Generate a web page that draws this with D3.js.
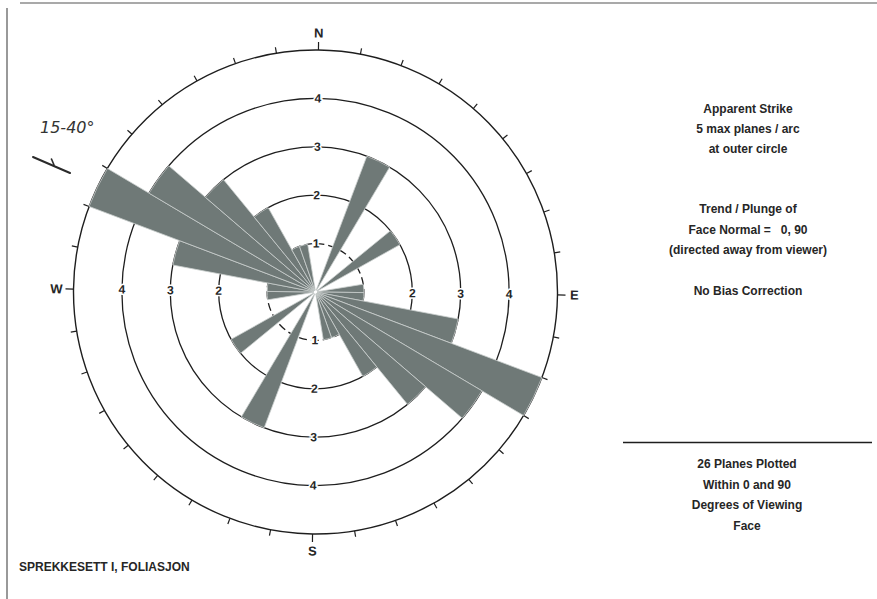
<!DOCTYPE html>
<html>
<head>
<meta charset="utf-8">
<script src="https://cdn.jsdelivr.net/npm/d3@7"></script>
<style>
  html, body { margin: 0; padding: 0; background: #fff; }
  svg { display: block; }
  text { font-family: "Liberation Sans", Arial, sans-serif; fill: #262626; }
</style>
</head>
<body>
<svg id="chart" width="877" height="599"></svg>
<script>
// Strike bins (degrees, start of each 10° arc) over one half-circle;
// each bin is drawn again at +180° since apparent strike is bidirectional.
const strikeBins = [0, 10, 20, 30, 40, 50, 60, 70, 80, 90, 100, 110, 120, 130, 140, 150, 160, 170];
const planeCounts = [0, 0, 3, 0, 0, 2, 0, 0, 1, 1, 3, 5, 4, 3, 2, 1, 1, 0];
const ringValues = [1, 2, 3, 4];
const maxPlanes = 5;
const compassLabels = ["N", "E", "S", "W"];
const infoLines = ["Apparent Strike", "5 max planes / arc", "at outer circle"];
const faceLines = ["Trend / Plunge of", "Face Normal =   0, 90", "(directed away from viewer)"];
const biasLine = "No Bias Correction";
const countLines = ["26 Planes Plotted", "Within 0 and 90", "Degrees of Viewing", "Face"];
const titleText = "SPREKKESETT I, FOLIASJON";
const noteText = "15-40°";

const svg = d3.select("#chart");
const cx = 315.5, cy = 292, R = 242;
const toRad = d => d * Math.PI / 180;

const r = d3.scaleLinear().domain([0, maxPlanes]).range([0, R]);

// page frame
svg.append("line").attr("x1", 20).attr("y1", 3).attr("x2", 877).attr("y2", 3)
  .attr("stroke", "#555").attr("stroke-width", 1.2);
svg.append("line").attr("x1", 7).attr("y1", 8).attr("x2", 7).attr("y2", 599)
  .attr("stroke", "#555").attr("stroke-width", 1.2);

const g = svg.append("g").attr("transform", `translate(${cx},${cy}) rotate(0.7)`);

// outer circle
g.append("circle").attr("r", r(maxPlanes)).attr("fill", "none")
  .attr("stroke", "#1e1e1e").attr("stroke-width", 1.4);

// rings
g.selectAll("circle.ring").data(ringValues).join("circle")
  .attr("class", "ring")
  .attr("r", d => r(d))
  .attr("fill", "none")
  .attr("stroke", "#1e1e1e")
  .attr("stroke-width", 1.3)
  .attr("stroke-dasharray", d => d === 1 ? "8,4" : null);

// 10° ticks on outer circle
const tickDegs = d3.range(0, 360, 10);
g.selectAll("line.tick").data(tickDegs).join("line")
  .attr("class", "tick")
  .attr("x1", d => Math.sin(toRad(d)) * R)
  .attr("y1", d => -Math.cos(toRad(d)) * R)
  .attr("x2", d => Math.sin(toRad(d)) * (R + (d % 90 === 0 ? 8 : 6)))
  .attr("y2", d => -Math.cos(toRad(d)) * (R + (d % 90 === 0 ? 8 : 6)))
  .attr("stroke", "#1e1e1e").attr("stroke-width", 1.2);

// compass labels
g.selectAll("text.compass").data(compassLabels).join("text")
  .attr("class", "compass")
  .attr("x", (d, i) => Math.sin(toRad(i * 90)) * (R + 17))
  .attr("y", (d, i) => -Math.cos(toRad(i * 90)) * (R + 17))
  .attr("text-anchor", "middle").attr("dominant-baseline", "central")
  .style("font-size", "13px").style("font-weight", "bold")
  .text(d => d);

// ring value labels on the four axes (the innermost E/W ones sit under the petals)
const ringLabelData = [];
ringValues.forEach(v => [0, 90, 180, 270].forEach(a => {
  if (!(v === 1 && (a === 90 || a === 270))) ringLabelData.push({ v, a });
}));
g.selectAll("text.ringlab").data(ringLabelData).join("text")
  .attr("class", "ringlab")
  .attr("x", d => Math.sin(toRad(d.a)) * r(d.v))
  .attr("y", d => -Math.cos(toRad(d.a)) * r(d.v))
  .attr("text-anchor", "middle").attr("dominant-baseline", "central")
  .style("font-size", "12px").style("font-weight", "bold")
  .style("paint-order", "stroke").style("stroke", "#fff").style("stroke-width", "3px")
  .text(d => d.v);

// rose petals (each bin and its opposite)
const petals = [];
strikeBins.forEach((b, i) => {
  if (planeCounts[i] > 0) {
    petals.push({ start: b, n: planeCounts[i] });
    petals.push({ start: b + 180, n: planeCounts[i] });
  }
});
const arc = d3.arc()
  .innerRadius(2)
  .outerRadius(d => r(d.n))
  .startAngle(d => toRad(d.start))
  .endAngle(d => toRad(d.start + 10));
g.selectAll("path.petal").data(petals).join("path")
  .attr("class", "petal")
  .attr("d", arc)
  .attr("fill", "#6f7977")
  .attr("stroke", "#c9cfcd")
  .attr("stroke-width", 0.8);

// side notes
const tx = 748;
svg.append("g").selectAll("text").data(infoLines).join("text")
  .attr("x", tx).attr("y", (d, i) => 109 + i * 20)
  .attr("text-anchor", "middle").attr("dominant-baseline", "central")
  .style("font-size", "12px").style("font-weight", "bold").text(d => d);
svg.append("g").selectAll("text").data(faceLines).join("text")
  .attr("x", tx).attr("y", (d, i) => 209 + i * 20.5)
  .attr("text-anchor", "middle").attr("dominant-baseline", "central")
  .style("font-size", "12px").style("font-weight", "bold").style("white-space", "pre")
  .text(d => d);
svg.append("text").attr("x", tx).attr("y", 291)
  .attr("text-anchor", "middle").attr("dominant-baseline", "central")
  .style("font-size", "12px").style("font-weight", "bold").text(biasLine);

svg.append("line").attr("x1", 623).attr("y1", 442.5).attr("x2", 872).attr("y2", 442.5)
  .attr("stroke", "#1e1e1e").attr("stroke-width", 1.6);
svg.append("g").selectAll("text").data(countLines).join("text")
  .attr("x", 747).attr("y", (d, i) => 464 + i * 20.7)
  .attr("text-anchor", "middle").attr("dominant-baseline", "central")
  .style("font-size", "12px").style("font-weight", "bold").text(d => d);

svg.append("text").attr("x", 19).attr("y", 567)
  .attr("dominant-baseline", "central")
  .style("font-size", "12px").style("font-weight", "bold").text(titleText);

// hand annotation: dip range and strike/dip symbol
svg.append("text").attr("x", 40).attr("y", 133)
  .style("font-family", "'DejaVu Sans', sans-serif").style("font-style", "italic")
  .style("font-size", "16px").style("fill", "#333").text(noteText);
svg.append("line").attr("x1", 33).attr("y1", 157).attr("x2", 70).attr("y2", 173)
  .attr("stroke", "#2a2a2a").attr("stroke-width", 2).attr("stroke-linecap", "round");
svg.append("line").attr("x1", 54).attr("y1", 165).attr("x2", 51.5).attr("y2", 159)
  .attr("stroke", "#2a2a2a").attr("stroke-width", 1.6).attr("stroke-linecap", "round");
</script>
</body>
</html>
